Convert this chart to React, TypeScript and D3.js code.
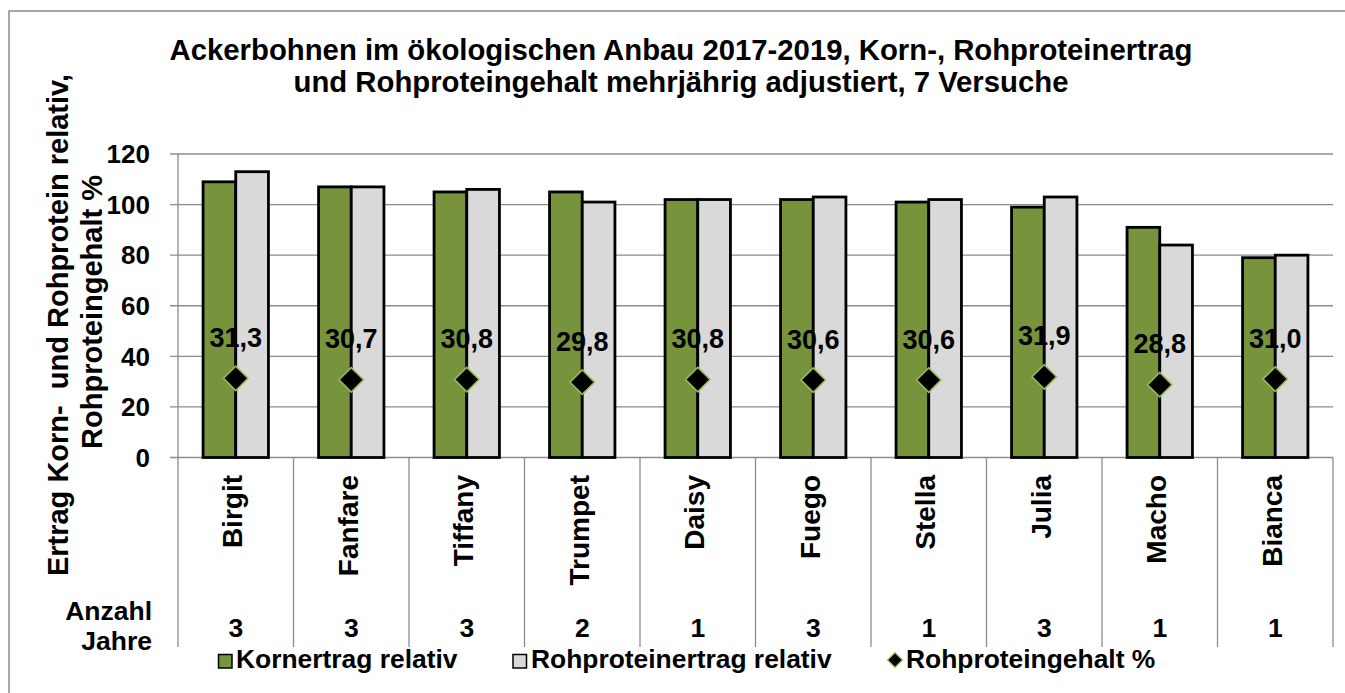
import React from "react";
import * as d3 from "d3";

const categories = ["Birgit", "Fanfare", "Tiffany", "Trumpet", "Daisy", "Fuego", "Stella", "Julia", "Macho", "Bianca"];
const kornertrag = [109, 107, 105, 105, 102, 102, 101, 99, 91, 79];
const rohproteinertrag = [113, 107, 106, 101, 102, 103, 102, 103, 84, 80];
const rohproteingehalt = [31.3, 30.7, 30.8, 29.8, 30.8, 30.6, 30.6, 31.9, 28.8, 31.0];
const anzahlJahre = [3, 3, 3, 2, 1, 3, 1, 3, 1, 1];
const yTicks = [0, 20, 40, 60, 80, 100, 120];
const seriesNames = ["Kornertrag relativ", "Rohproteinertrag relativ", "Rohproteingehalt %"];
const titleLines = [
  "Ackerbohnen im ökologischen Anbau 2017-2019, Korn-, Rohproteinertrag",
  "und Rohproteingehalt mehrjährig adjustiert, 7 Versuche",
];
const yTitleLines = ["Ertrag Korn-  und Rohprotein relativ,", "Rohproteingehalt %"];

const W = 1345;
const H = 693;
const FONT = "'Liberation Sans', Arial, sans-serif";
const GREEN = "#77933C";
const GRAY = "#D9D9D9";
const GRID = "#8C8C8C";

export default function App() {
  const left = 178;
  const right = 1333;
  const top = 154;
  const bottom = 457.5;

  const x = d3.scaleBand<string>().domain(categories).range([left, right]).paddingInner(0.434).paddingOuter(0.217);
  const xSub = d3.scaleBand<string>().domain(["k", "r"]).range([0, x.bandwidth()]);
  const y = d3.scaleLinear().domain([0, 120]).range([bottom, top]);
  const step = x.step();
  const cx = (c: string) => (x(c) as number) + x.bandwidth() / 2;

  const diamond = d3.symbol().type(d3.symbolSquare).size(300)();
  const legendDiamond = d3.symbol().type(d3.symbolSquare).size(110)();

  const sepY2 = 647;

  return (
    <div style={{ position: "absolute", left: 0, top: 0 }}>
      <svg width={W} height={H} style={{ display: "block", background: "#fff" }} fontFamily={FONT} fontWeight="bold">
        <rect x={9} y={11} width={W} height={H} fill="#fff" stroke="#8A8A8A" strokeWidth={1.5} />

        {titleLines.map((t, i) => (
          <text key={i} x={681} y={60 + i * 32} textAnchor="middle" fontSize={29.3} fill="#000">
            {t}
          </text>
        ))}

        {/* y-axis title */}
        <text transform={`translate(68,325) rotate(-90)`} textAnchor="middle" fontSize={29} fill="#000" style={{ whiteSpace: "pre" }}>
          {yTitleLines[0]}
        </text>
        <text transform={`translate(101.5,312) rotate(-90)`} textAnchor="middle" fontSize={29} fill="#000">
          {yTitleLines[1]}
        </text>

        {/* gridlines & y ticks */}
        {yTicks.map((t) => (
          <g key={t}>
            <line x1={170} x2={right} y1={y(t)} y2={y(t)} stroke={GRID} strokeWidth={1.3} />
            <text x={150} y={y(t) + 9.3} textAnchor="end" fontSize={26} fill="#000">
              {t}
            </text>
          </g>
        ))}
        <line x1={left} x2={left} y1={top} y2={bottom} stroke={GRID} strokeWidth={1.3} />

        {/* category separators */}
        {d3.range(categories.length + 1).map((i) => (
          <line key={i} x1={left + i * step} x2={left + i * step} y1={bottom} y2={sepY2} stroke={GRID} strokeWidth={1.3} />
        ))}

        {/* bars */}
        {categories.map((c, i) => (
          <g key={c}>
            <rect
              x={(x(c) as number) + (xSub("k") as number)}
              y={y(kornertrag[i])}
              width={xSub.bandwidth()}
              height={y(0) - y(kornertrag[i])}
              fill={GREEN}
              stroke="#000"
              strokeWidth={2.8}
            />
            <rect
              x={(x(c) as number) + (xSub("r") as number)}
              y={y(rohproteinertrag[i])}
              width={xSub.bandwidth()}
              height={y(0) - y(rohproteinertrag[i])}
              fill={GRAY}
              stroke="#000"
              strokeWidth={2.8}
            />
          </g>
        ))}

        {/* protein markers and labels */}
        {categories.map((c, i) => (
          <g key={c}>
            <path
              d={diamond as string}
              transform={`translate(${cx(c)},${y(rohproteingehalt[i])}) rotate(45)`}
              fill="#000"
              stroke="#9BBB59"
              strokeWidth={1.5}
            />
            <text x={cx(c)} y={y(rohproteingehalt[i]) - 31.5} textAnchor="middle" fontSize={27} fill="#000">
              {rohproteingehalt[i].toFixed(1).replace(".", ",")}
            </text>
          </g>
        ))}

        {/* category labels */}
        {categories.map((c) => (
          <text key={c} transform={`translate(${cx(c) + 6.5},475) rotate(-90)`} textAnchor="end" fontSize={28} fill="#000">
            {c}
          </text>
        ))}

        {/* Anzahl Jahre */}
        <text x={152} y={620} textAnchor="end" fontSize={26.5} fill="#000">Anzahl</text>
        <text x={152} y={650} textAnchor="end" fontSize={26.5} fill="#000">Jahre</text>
        {categories.map((c, i) => (
          <text key={c} x={cx(c)} y={637} textAnchor="middle" fontSize={26.5} fill="#000">
            {anzahlJahre[i]}
          </text>
        ))}

        {/* legend */}
        <rect x={218.5} y={654.5} width={13.5} height={13.5} fill={GREEN} stroke="#000" strokeWidth={1.5} />
        <text x={236} y={668} fontSize={26.4} fill="#000">{seriesNames[0]}</text>
        <rect x={513} y={654.5} width={13.5} height={13.5} fill={GRAY} stroke="#000" strokeWidth={1.5} />
        <text x={531} y={668} fontSize={26.4} fill="#000">{seriesNames[1]}</text>
        <path d={legendDiamond as string} transform={`translate(895,660) rotate(45)`} fill="#000" stroke="#9BBB59" strokeWidth={1.2} />
        <text x={906} y={668} fontSize={26.4} fill="#000">{seriesNames[2]}</text>
      </svg>
    </div>
  );
}
